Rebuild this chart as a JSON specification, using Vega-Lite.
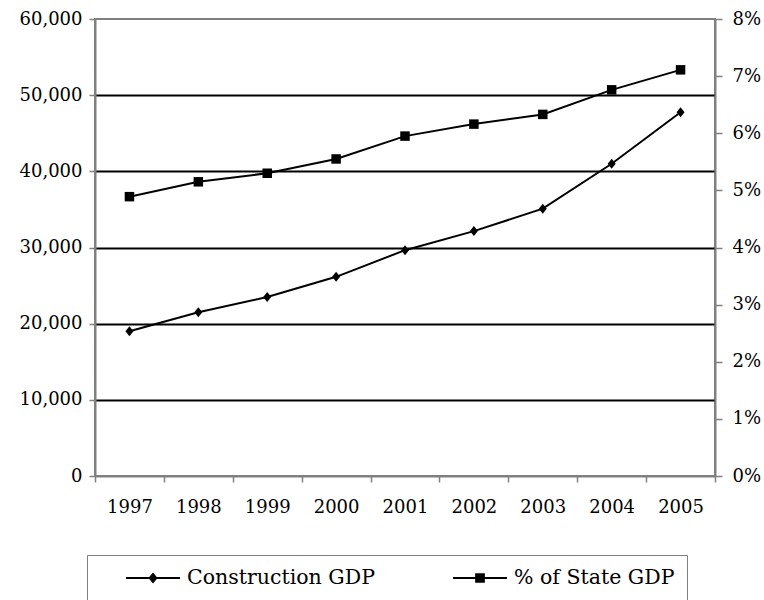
{
  "$schema": "https://vega.github.io/schema/vega-lite/v6.json",
  "width": 620,
  "height": 457,
  "autosize": {"type": "none"},
  "padding": {"left": 95, "top": 19, "right": 49, "bottom": 124},
  "background": "white",
  "config": {
    "font": "DejaVu Serif",
    "view": {"stroke": "#808080", "strokeWidth": 2},
    "axis": {
      "labelFont": "DejaVu Serif",
      "labelFontSize": 18,
      "labelColor": "black",
      "domainColor": "#808080",
      "domainWidth": 2,
      "tickColor": "#808080",
      "tickWidth": 1.5,
      "tickSize": 6,
      "title": null
    }
  },
  "data": {
    "values": [
      {"year": "1997", "gdp": 19000, "pct": 0.0489},
      {"year": "1998", "gdp": 21500, "pct": 0.0515},
      {"year": "1999", "gdp": 23500, "pct": 0.0530},
      {"year": "2000", "gdp": 26150, "pct": 0.0555},
      {"year": "2001", "gdp": 29650, "pct": 0.0595},
      {"year": "2002", "gdp": 32150, "pct": 0.0616},
      {"year": "2003", "gdp": 35100, "pct": 0.0633},
      {"year": "2004", "gdp": 41000, "pct": 0.0676},
      {"year": "2005", "gdp": 47750, "pct": 0.0711}
    ]
  },
  "encoding": {
    "x": {
      "field": "year",
      "type": "ordinal",
      "scale": {"paddingInner": 0, "paddingOuter": 0},
      "axis": {"labelAngle": 0, "tickBand": "extent", "labelPadding": 16, "title": null}
    }
  },
  "layer": [
    {
      "encoding": {
        "y": {
          "field": "gdp",
          "type": "quantitative",
          "scale": {"domain": [0, 60000], "nice": false},
          "axis": {
            "values": [0, 10000, 20000, 30000, 40000, 50000, 60000],
            "format": ",.0f",
            "grid": true,
            "gridColor": "black",
            "gridWidth": 2,
            "gridOpacity": {"condition": {"test": "datum.value === 0 || datum.value === 60000", "value": 0}, "value": 1},
            "labelPadding": 7,
            "title": null
          }
        }
      },
      "layer": [
        {"mark": {"type": "line", "color": "black", "strokeWidth": 2}},
        {"mark": {"type": "point", "filled": true, "color": "black", "size": 100, "opacity": 1, "shape": "M0,-1L0.8,0L0,1L-0.8,0Z"}},
        {
          "transform": [{"filter": "false"}],
          "mark": {"type": "point", "filled": true, "color": "black", "opacity": 1},
          "encoding": {
            "shape": {
              "datum": "Construction GDP",
              "type": "nominal",
              "scale": {
                "domain": ["Construction GDP", "% of State GDP"],
                "range": [
                  "M-1,-0.037L1,-0.037L1,0.037L-1,0.037ZM0,-0.2L0.17,0L0,0.2L-0.17,0Z",
                  "M-1,-0.037L1,-0.037L1,0.037L-1,0.037ZM-0.18,-0.18L0.18,-0.18L0.18,0.18L-0.18,0.18Z"
                ]
              },
              "legend": {
                "orient": "none",
                "legendX": -8,
                "legendY": 536,
                "direction": "horizontal",
                "columns": 2,
                "padding": 12,
                "strokeColor": "#808080",
                "symbolSize": 2916,
                "clipHeight": 22,
                "symbolStrokeWidth": 2,
                "symbolFillColor": "black",
                "symbolOffset": 26,
                "labelOffset": 6,
                "columnPadding": 51,
                "labelFontSize": 20.5,
                "labelFont": "DejaVu Serif",
                "labelColor": "black",
                "labelLimit": 400,
                "title": null
              }
            }
          }
        }
      ]
    },
    {
      "encoding": {
        "y": {
          "field": "pct",
          "type": "quantitative",
          "scale": {"domain": [0, 0.08], "nice": false},
          "axis": {
            "orient": "right",
            "format": ".0%",
            "values": [0, 0.01, 0.02, 0.03, 0.04, 0.05, 0.06, 0.07, 0.08],
            "grid": false,
            "labelPadding": 10,
            "tickSize": 7,
            "title": null
          }
        }
      },
      "layer": [
        {"mark": {"type": "line", "color": "black", "strokeWidth": 2}},
        {"mark": {"type": "point", "filled": true, "color": "black", "size": 90, "opacity": 1, "shape": "square"}}
      ]
    }
  ],
  "resolve": {"scale": {"y": "independent"}}
}
